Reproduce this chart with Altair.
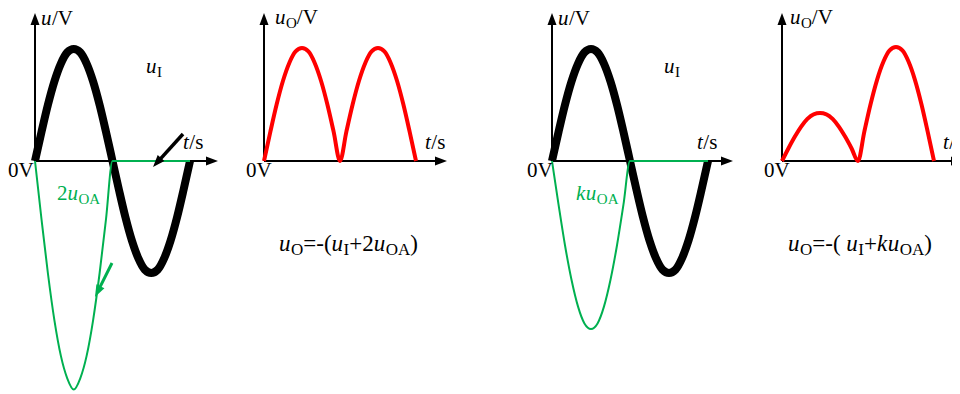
import altair as alt
import pandas as pd
import math

# ---------------- data ----------------
# sample instants over one period of the input, as fraction of the period
t_frac = [0, 0.042, 0.083, 0.125, 0.167, 0.208, 0.25, 0.292, 0.333, 0.375, 0.417, 0.458, 0.5,
          0.542, 0.583, 0.625, 0.667, 0.708, 0.75, 0.792, 0.833, 0.875, 0.917, 0.958, 1.0]
# input voltage uI (normalised to its amplitude)
u_i = [0, 0.26, 0.5, 0.71, 0.87, 0.97, 1.0, 0.97, 0.87, 0.71, 0.5, 0.26, 0,
       -0.26, -0.5, -0.71, -0.87, -0.97, -1.0, -0.97, -0.87, -0.71, -0.5, -0.26, 0]
# 2*uOA (left circuit)
u_2oa = [0, -0.52, -1.0, -1.42, -1.74, -1.94, -2.04, -1.94, -1.74, -1.42, -1.0, -0.52, 0,
         0, 0, 0, 0, 0, 0, 0, 0, 0, 0, 0, 0]
# output uO (left circuit) - full-wave
u_o1 = [0, 0.26, 0.5, 0.71, 0.87, 0.97, 1.0, 0.97, 0.87, 0.71, 0.5, 0.26, 0,
        0.26, 0.5, 0.71, 0.87, 0.97, 1.0, 0.97, 0.87, 0.71, 0.5, 0.26, 0]
# k*uOA (right circuit)
u_koa = [0, -0.39, -0.75, -1.06, -1.3, -1.45, -1.5, -1.45, -1.3, -1.06, -0.75, -0.39, 0,
         0, 0, 0, 0, 0, 0, 0, 0, 0, 0, 0, 0]
# output uO (right circuit) - unequal humps
u_o2 = [0, 0.11, 0.21, 0.3, 0.37, 0.41, 0.42, 0.41, 0.37, 0.3, 0.21, 0.11, 0,
        0.26, 0.5, 0.71, 0.87, 0.97, 1.0, 0.97, 0.87, 0.71, 0.5, 0.26, 0]

# ---------------- layout ----------------
BLACK, GREEN, RED = "#000000", "#00B050", "#FF0000"
FONT = "Liberation Serif"
# panel origin x, origin y, pixels per period, pixels per unit amplitude
panels = {
    "P1": (35, 161, 155, 112),
    "P2": (264, 161, 152, 113),
    "P3": (552, 161, 156, 112),
    "P4": (782, 161, 152, 114),
}
series = [
    ("P1", "uI_1", u_i, BLACK, 8),
    ("P1", "2uOA", u_2oa, GREEN, 2),
    ("P2", "uO_1", u_o1, RED, 4),
    ("P3", "uI_2", u_i, BLACK, 8),
    ("P3", "kuOA", u_koa, GREEN, 2),
    ("P4", "uO_2", u_o2, RED, 4),
]
rows = []
for order, (p, name, vals, col, w) in enumerate(series):
    x0, y0, per, amp = panels[p]
    for i, (t, v) in enumerate(zip(t_frac, vals)):
        rows.append(dict(s=name, o=order, i=i, x=x0 + t * per, y=y0 - v * amp, c=col, w=w))
curves = pd.DataFrame(rows)

# axes (rule segments) and arrowheads
HALF = 6  # half size of arrowhead box
rules = []
heads = []
for p, (x0, y0, per, amp) in panels.items():
    ytip = 13
    xtip = {"P1": 218, "P2": 447, "P3": 733, "P4": 963}[p]
    rules.append(dict(x=x0, y=y0, x2=x0, y2=ytip + HALF, c=BLACK, w=2))
    rules.append(dict(x=x0, y=y0, x2=xtip - HALF, y2=y0, c=BLACK, w=2))
    heads.append(dict(x=x0, y=ytip + HALF, a=0, c=BLACK, sz=144))
    heads.append(dict(x=xtip - HALF, y=y0, a=90, c=BLACK, sz=144))

# pointer arrows: (start, tip, colour, width, angle)
pointers = [
    ((183, 134), (153, 167), BLACK, 3.5, 222),
    ((112, 263), (95, 297), GREEN, 3, 207),
]
for (sx, sy), (tx, ty), col, w, ang in pointers:
    dx, dy = tx - sx, ty - sy
    L = math.hypot(dx, dy)
    ux, uy = dx / L, dy / L
    cx, cy = tx - ux * HALF, ty - uy * HALF
    rules.append(dict(x=sx, y=sy, x2=cx, y2=cy, c=col, w=w))
    heads.append(dict(x=cx, y=cy, a=ang, c=col, sz=144))
rules = pd.DataFrame(rules)
heads = pd.DataFrame(heads)

# text labels (Times metrics)
WID = {"u": .5, "t": .278, "k": .444, "/": .278, "V": .722, "O": .722, "A": .722, "I": .333,
       "s": .389, "0": .5, "2": .5, "=": .564, "-": .333, "(": .333, ")": .333, "+": .564, " ": .25}
texts = []


def label(x, y, pieces, fs, ss, col=BLACK):
    for txt, kind in pieces:
        if kind == "s":
            size, yb, sty = ss, y + 4, "n"
        else:
            size, yb, sty = fs, y, kind
        texts.append(dict(x=x, y=yb, t=txt, st=sty, fs=size, c=col))
        x += sum(WID[ch] for ch in txt) * size + (0.5 if kind == "i" else 0)


F, S = 21, 15
FF, FS = 23, 17
axis_u = [("u", "i"), ("/V", "n")]
axis_uo = [("u", "i"), ("O", "s"), ("/V", "n")]
axis_t = [("t", "i"), ("/s", "n")]
zero = [("0V", "n")]
ui_lab = [("u", "i"), ("I", "s")]
label(41, 25, axis_u, F, S)
label(146, 73, ui_lab, F, S)
label(183, 149, axis_t, F, S)
label(8, 177, zero, F, S)
label(57, 200, [("2", "n"), ("u", "i"), ("OA", "s")], F, S, GREEN)
label(275, 24, axis_uo, F, S)
label(425, 149, axis_t, F, S)
label(246, 177, zero, F, S)
label(279, 251, [("u", "i"), ("O", "s"), ("=-(", "n"), ("u", "i"), ("I", "s"), ("+2", "n"),
                 ("u", "i"), ("OA", "s"), (")", "n")], FF, FS)
label(558, 25, axis_u, F, S)
label(664, 73, ui_lab, F, S)
label(697, 149, axis_t, F, S)
label(527, 177, zero, F, S)
label(576, 200, [("k", "i"), ("u", "i"), ("OA", "s")], F, S, GREEN)
label(790, 24, axis_uo, F, S)
label(943, 149, axis_t, F, S)
label(764, 177, zero, F, S)
label(788, 251, [("u", "i"), ("O", "s"), ("=-( ", "n"), ("u", "i"), ("I", "s"), ("+", "n"),
                 ("k", "i"), ("u", "i"), ("OA", "s"), (")", "n")], FF, FS)
texts = pd.DataFrame(texts)

# ---------------- chart ----------------
# data units are page pixels; page margin is 8px so the plot spans 8..952 x 8..392
X = alt.X("x:Q", scale=alt.Scale(domain=[8, 952], nice=False, zero=False), axis=None)
Y = alt.Y("y:Q", scale=alt.Scale(domain=[8, 392], nice=False, zero=False, reverse=True), axis=None)

rule_layer = alt.Chart(rules).mark_rule().encode(
    x=X, y=Y, x2="x2:Q", y2="y2:Q",
    color=alt.Color("c:N", scale=None),
    strokeWidth=alt.StrokeWidth("w:Q", scale=None),
)

curve_layer = alt.Chart(curves).mark_line(interpolate="monotone", strokeJoin="round").encode(
    x=X, y=Y,
    detail="s:N",
    order="i:Q",
    color=alt.Color("c:N", scale=None),
    strokeWidth=alt.StrokeWidth("w:Q", scale=None),
)

head_layer = alt.Chart(heads).mark_point(
    shape="M0,-1L0.75,1L-0.75,1Z", filled=True, opacity=1, strokeWidth=0
).encode(
    x=X, y=Y,
    angle=alt.Angle("a:Q", scale=None),
    color=alt.Color("c:N", scale=None),
    size=alt.Size("sz:Q", scale=None),
)


def text_layer(style):
    return alt.Chart(texts[texts.st == style]).mark_text(
        font=FONT, align="left", baseline="alphabetic",
        fontStyle="italic" if style == "i" else "normal",
    ).encode(
        x=X, y=Y, text="t:N",
        color=alt.Color("c:N", scale=None),
        size=alt.Size("fs:Q", scale=None),
    )


chart = alt.layer(
    rule_layer, curve_layer, head_layer, text_layer("i"), text_layer("n")
).properties(
    width=944, height=384, padding=0, background="white",
    autosize=alt.AutoSizeParams(type="none"),
).configure_view(stroke=None)

chart.save("out.html", embed_options={"renderer": "svg", "actions": False})
